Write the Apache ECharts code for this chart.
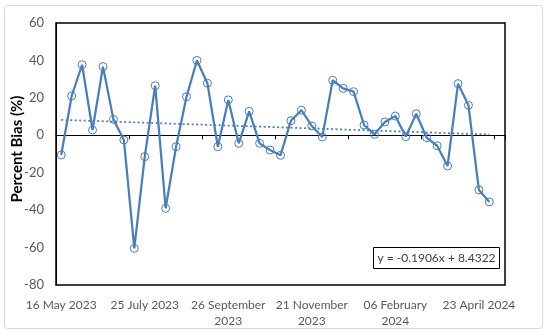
<!DOCTYPE html>
<html>
<head>
<meta charset="utf-8">
<script src="https://cdn.jsdelivr.net/npm/echarts@6/dist/echarts.min.js"></script>
<style>html,body{margin:0;padding:0;background:#fff;}#c{width:550px;height:334px;}</style>
</head>
<body>
<div id="c"></div>
<script>
// Percent bias values, one per sampling date (42 points)
const biasValues = [-10.5, 21, 37.7, 2.8, 36.7, 8.5, -2.5, -60.4, -11.4, 26.5, -39, -6.1, 20.6, 40, 27.8,
  -6.1, 18.9, -4.3, 12.8, -4.3, -7.9, -10.7, 7.8, 13.4, 5, -0.9, 29.4, 25.1, 23.3, 5.5, 0.5, 7.1, 10.3,
  -0.7, 11.5, -1.3, -5.6, -16.4, 27.6, 16, -29.2, -35.6];
// Category slots on the axis (the last slot is empty)
const categoryCount = 43;
// Tick labels shown every 8th category
const tickLabels = ['16 May 2023', '25 July 2023', '26 September\n2023', '21 November\n2023', '06 February\n2024', '23 April 2024'];
const labelEvery = 8;
const tickEvery = 7;
// Linear trend line shown on the chart
const trendSlope = -0.1906;
const trendIntercept = 8.4322;
const yTicks = {min: -80, max: 60, interval: 20};

const categories = [];
for (let i = 0; i < categoryCount; i++) categories.push(String(i));
const seriesData = biasValues.concat(new Array(categoryCount - biasValues.length).fill(null));
const trendData = new Array(categoryCount).fill(null);
trendData[0] = trendSlope * 1 + trendIntercept;
trendData[biasValues.length - 1] = trendSlope * biasValues.length + trendIntercept;

const blue = '#4A7EBB';
const font = 'Lato, "Liberation Sans", sans-serif';
const chart = echarts.init(document.getElementById('c'), null, {renderer: 'canvas'});
chart.setOption({
  animation: false,
  backgroundColor: '#fff',
  grid: {left: 56, right: 45, top: 23, bottom: 49, show: true, borderColor: '#000', borderWidth: 1.5, backgroundColor: 'transparent'},
  xAxis: [
    {
      type: 'category', data: categories, boundaryGap: true,
      axisLine: {show: true, onZero: true, lineStyle: {color: '#000', width: 1}},
      axisTick: {show: true, interval: tickEvery - 1, length: 4, inside: false, lineStyle: {color: '#000', width: 1}},
      axisLabel: {show: false},
      splitLine: {show: false}
    },
    {
      type: 'category', data: categories, boundaryGap: true, position: 'bottom',
      axisLine: {show: false, onZero: false},
      axisTick: {show: false},
      axisLabel: {
        show: true, interval: labelEvery - 1, margin: 12, color: '#595959',
        fontFamily: font, fontSize: 12, lineHeight: 16, align: 'center',
        formatter: function (v, idx) { return idx % labelEvery === 0 ? (tickLabels[idx / labelEvery] || '') : ''; }
      },
      splitLine: {show: false}
    }
  ],
  yAxis: {
    type: 'value', min: yTicks.min, max: yTicks.max, interval: yTicks.interval,
    axisLine: {show: true, lineStyle: {color: '#000', width: 1}},
    axisTick: {show: false},
    splitLine: {show: false},
    axisLabel: {color: '#595959', fontFamily: font, fontSize: 13, margin: 12}
  },
  series: [
    {
      type: 'line', xAxisIndex: 0, data: seriesData,
      symbol: 'circle', symbolSize: 8, showAllSymbol: true,
      lineStyle: {color: blue, width: 2.25},
      itemStyle: {color: 'rgba(255,255,255,0)', borderColor: blue, borderWidth: 1},
      z: 3
    },
    {
      type: 'line', xAxisIndex: 0, data: trendData, connectNulls: true,
      symbol: 'none', silent: true,
      lineStyle: {color: blue, width: 1.75, type: [2, 2.5]},
      z: 2
    }
  ],
  graphic: [
    {type: 'rect', shape: {x: 4.5, y: 5.5, width: 538, height: 323, r: 3}, style: {fill: 'none', stroke: '#D9D9D9', lineWidth: 1}, silent: true, z: -10},
    {type: 'text', x: 17, y: 149, rotation: Math.PI / 2,
      style: {text: 'Percent Bias (%)', fill: '#000', font: 'bold 15px ' + font, textAlign: 'center', textVerticalAlign: 'middle'}, z: 10},
    {type: 'rect', shape: {x: 373.5, y: 247.5, width: 126, height: 21}, style: {fill: '#fff', stroke: '#000', lineWidth: 1}, z: 10},
    {type: 'text', x: 436.5, y: 258.5,
      style: {text: 'y = ' + trendSlope + 'x + ' + trendIntercept, fill: '#404040', font: '12px ' + font, textAlign: 'center', textVerticalAlign: 'middle'}, z: 11}
  ]
});
</script>
</body>
</html>
